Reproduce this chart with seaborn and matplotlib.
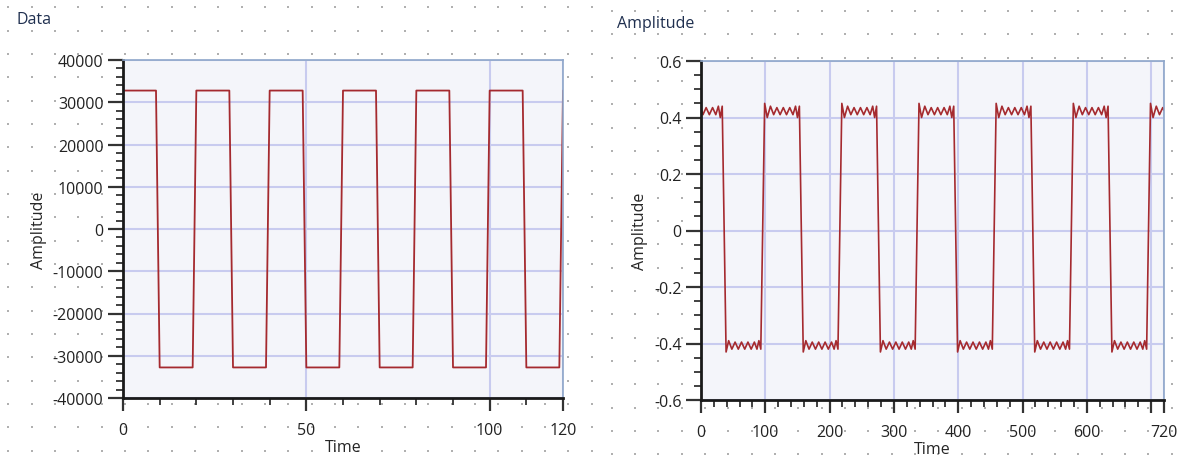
import numpy as np
import matplotlib
matplotlib.use("Agg")
import matplotlib.pyplot as plt
from matplotlib.ticker import MultipleLocator
import seaborn as sns

sns.set_theme(style="white")
plt.rcParams['font.family'] = ['Open Sans', 'DejaVu Sans']
plt.rcParams['axes.unicode_minus'] = False

# left panel: raw 16-bit samples
H, L = 32767, -32767
data_time = list(range(121))
data_values = [
    H, H, H, H, H, H, H, H, H, H,
    L, L, L, L, L, L, L, L, L, L,
    H, H, H, H, H, H, H, H, H, H,
    L, L, L, L, L, L, L, L, L, L,
    H, H, H, H, H, H, H, H, H, H,
    L, L, L, L, L, L, L, L, L, L,
    H, H, H, H, H, H, H, H, H, H,
    L, L, L, L, L, L, L, L, L, L,
    H, H, H, H, H, H, H, H, H, H,
    L, L, L, L, L, L, L, L, L, L,
    H, H, H, H, H, H, H, H, H, H,
    L, L, L, L, L, L, L, L, L, L,
    H,
]

# right panel: band-limited version (ripple)
amp_time = [
    0, 3, 8, 13, 18, 23, 27, 30, 33,
    39, 43, 48, 53, 58, 63, 68, 73, 78, 83, 87, 90, 93,
    99, 103, 108, 113, 118, 123, 128, 133, 138, 143, 147, 150, 153,
    159, 163, 168, 173, 178, 183, 188, 193, 198, 203, 207, 210, 213,
    219, 223, 228, 233, 238, 243, 248, 253, 258, 263, 267, 270, 273,
    279, 283, 288, 293, 298, 303, 308, 313, 318, 323, 327, 330, 333,
    339, 343, 348, 353, 358, 363, 368, 373, 378, 383, 387, 390, 393,
    399, 403, 408, 413, 418, 423, 428, 433, 438, 443, 447, 450, 453,
    459, 463, 468, 473, 478, 483, 488, 493, 498, 503, 507, 510, 513,
    519, 523, 528, 533, 538, 543, 548, 553, 558, 563, 567, 570, 573,
    579, 583, 588, 593, 598, 603, 608, 613, 618, 623, 627, 630, 633,
    639, 643, 648, 653, 658, 663, 668, 673, 678, 683, 687, 690, 693,
    699, 703, 708, 713, 718, 720,
]
amp_value = [
    0.43, 0.41, 0.435, 0.41, 0.435, 0.41, 0.44, 0.40, 0.44,
    -0.43, -0.39, -0.42, -0.395, -0.42, -0.395, -0.42, -0.395, -0.42, -0.395, -0.42, -0.39, -0.42,
    0.45, 0.40, 0.44, 0.41, 0.435, 0.41, 0.435, 0.41, 0.435, 0.41, 0.44, 0.40, 0.44,
    -0.43, -0.39, -0.42, -0.395, -0.42, -0.395, -0.42, -0.395, -0.42, -0.395, -0.42, -0.39, -0.42,
    0.45, 0.40, 0.44, 0.41, 0.435, 0.41, 0.435, 0.41, 0.435, 0.41, 0.44, 0.40, 0.44,
    -0.43, -0.39, -0.42, -0.395, -0.42, -0.395, -0.42, -0.395, -0.42, -0.395, -0.42, -0.39, -0.42,
    0.45, 0.40, 0.44, 0.41, 0.435, 0.41, 0.435, 0.41, 0.435, 0.41, 0.44, 0.40, 0.44,
    -0.43, -0.39, -0.42, -0.395, -0.42, -0.395, -0.42, -0.395, -0.42, -0.395, -0.42, -0.39, -0.42,
    0.45, 0.40, 0.44, 0.41, 0.435, 0.41, 0.435, 0.41, 0.435, 0.41, 0.44, 0.40, 0.44,
    -0.43, -0.39, -0.42, -0.395, -0.42, -0.395, -0.42, -0.395, -0.42, -0.395, -0.42, -0.39, -0.42,
    0.45, 0.40, 0.44, 0.41, 0.435, 0.41, 0.435, 0.41, 0.435, 0.41, 0.44, 0.40, 0.44,
    -0.43, -0.39, -0.42, -0.395, -0.42, -0.395, -0.42, -0.395, -0.42, -0.395, -0.42, -0.39, -0.42,
    0.45, 0.40, 0.44, 0.41, 0.435, 0.425,
]

left_xticks = [0, 50, 100, 120]
left_yticks = [-40000, -30000, -20000, -10000, 0, 10000, 20000, 30000, 40000]
left_ylabels = ['-40000', '-30000', '-20000', '-10000', '0', '10000', '20000', '30000', '40000']
right_xticks = [0, 100, 200, 300, 400, 500, 600, 700, 720]
right_xlabels = ['0', '100', '200', '300', '400', '500', '600', '', '720']
right_yticks = [-0.6, -0.4, -0.2, 0, 0.2, 0.4, 0.6]
right_ylabels = ['-0.6', '-0.4', '-0.2', '0', '0.2', '0.4', '0.6']

line_color = '#a52a2f'
grid_color = '#c8cbef'
face_color = '#f4f5fa'
text_size = 11.5
W, Hpx = 1190, 460

fig = plt.figure(figsize=(W / 100, Hpx / 100), dpi=100)

# designer-style dotted background
bg = fig.add_axes([0, 0, 1, 1], zorder=-5)
bg.set_xlim(0, W)
bg.set_ylim(Hpx, 0)
bg.axis('off')
step = 70 / 3
for x0, y0, x1 in [(8.3, 8.3, 595), (611.7, 12, W)]:
    gx, gy = np.meshgrid(np.arange(x0, x1, step), np.arange(y0, Hpx, step))
    bg.scatter(gx.ravel(), gy.ravel(), s=2.2, marker='s', color='#b0b0b0', linewidths=0)

ax1 = fig.add_axes([123 / W, 61 / Hpx, 440 / W, 338 / Hpx])
ax2 = fig.add_axes([701 / W, 59 / Hpx, 463 / W, 339 / Hpx])

sns.lineplot(x=data_time, y=data_values, ax=ax1, color=line_color, linewidth=1.3)
sns.lineplot(x=amp_time, y=amp_value, ax=ax2, color=line_color, linewidth=1.2)

ax1.set_xlim(0, 120)
ax1.set_ylim(-40000, 40000)
ax1.set_xticks(left_xticks)
ax1.set_yticks(left_yticks, left_ylabels)
ax1.xaxis.set_minor_locator(MultipleLocator(10))
ax1.yaxis.set_minor_locator(MultipleLocator(2000))

ax2.set_xlim(0, 720)
ax2.set_ylim(-0.6, 0.6)
ax2.set_xticks(right_xticks, right_xlabels)
ax2.set_yticks(right_yticks, right_ylabels)
ax2.xaxis.set_minor_locator(MultipleLocator(20))
ax2.yaxis.set_minor_locator(MultipleLocator(0.05))

for ax in (ax1, ax2):
    ax.set_facecolor(face_color)
    ax.grid(True, which='major', color=grid_color, linewidth=1.5)
    ax.set_axisbelow(True)
    for side in ('left', 'bottom'):
        ax.spines[side].set(color='#1a1a1a', linewidth=2)
    for side in ('top', 'right'):
        ax.spines[side].set(color='#8ea6c9', linewidth=1.2)
    ax.tick_params(axis='both', which='both', direction='out', left=True, bottom=True,
                   color='#333333', labelcolor='#222222', labelsize=text_size)
    ax.tick_params(axis='y', which='major', length=11, width=1.6, pad=3)
    ax.tick_params(axis='x', which='major', length=9, width=1.6, pad=8)
    ax.tick_params(axis='both', which='minor', length=5, width=1.3)
    ax.set_xlabel("Time", fontsize=text_size, labelpad=1)
    ax.set_ylabel("Amplitude", fontsize=text_size, labelpad=4)

fig.text(17 / W, 1 - 20 / Hpx, "Data", ha='left', va='center', fontsize=text_size, color='#1f2f4f')
fig.text(617 / W, 1 - 24 / Hpx, "Amplitude", ha='left', va='center', fontsize=text_size, color='#1f2f4f')

fig.savefig("out.png", dpi=100)
